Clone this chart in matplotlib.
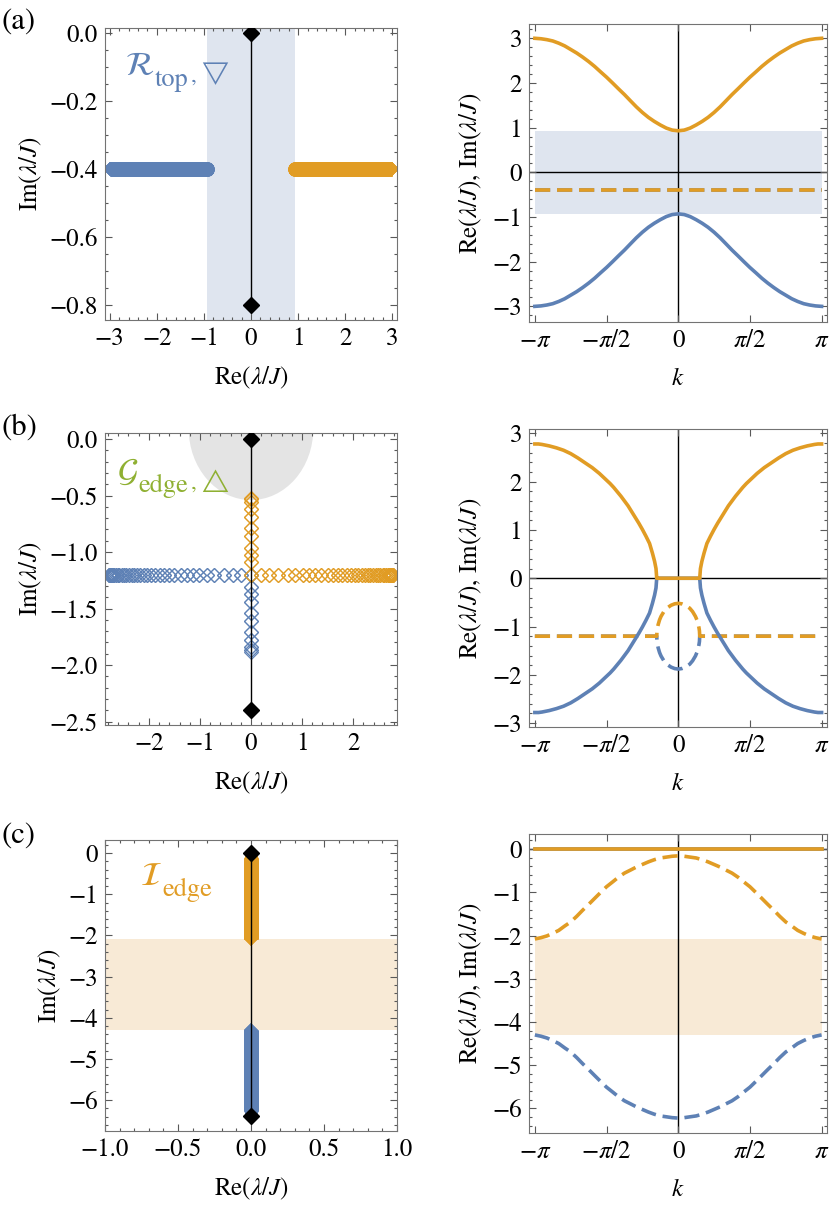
import numpy as np
import matplotlib
matplotlib.use('Agg')
import matplotlib.pyplot as plt
from matplotlib.ticker import MultipleLocator, FuncFormatter
from matplotlib.patches import Ellipse

plt.rcParams['font.family'] = 'STIXGeneral'
plt.rcParams['mathtext.fontset'] = 'stix'
plt.rcParams['font.size'] = 18

azul = '#5e81b5'
naranja = '#e19c24'
verde = '#8fb032'

# ---- datos (k en unidades de pi) ----
# paneles (a) y (c): k = -pi..pi en pasos de pi/24
k_ac = [-1.0, -0.958, -0.917, -0.875, -0.833, -0.792, -0.75, -0.708, -0.667, -0.625, -0.583, -0.542,
        -0.5, -0.458, -0.417, -0.375, -0.333, -0.292, -0.25, -0.208, -0.167, -0.125, -0.083, -0.042, 0.0,
        0.042, 0.083, 0.125, 0.167, 0.208, 0.25, 0.292, 0.333, 0.375, 0.417, 0.458, 0.5,
        0.542, 0.583, 0.625, 0.667, 0.708, 0.75, 0.792, 0.833, 0.875, 0.917, 0.958, 1.0]

re_a_sup = [3.00, 2.99, 2.97, 2.94, 2.89, 2.83, 2.75, 2.67, 2.58, 2.48, 2.37, 2.25,
            2.13, 2.00, 1.87, 1.74, 1.60, 1.465, 1.34, 1.23, 1.14, 1.06, 0.99, 0.945, 0.93,
            0.945, 0.99, 1.06, 1.14, 1.23, 1.34, 1.465, 1.60, 1.74, 1.87, 2.00, 2.13,
            2.25, 2.37, 2.48, 2.58, 2.67, 2.75, 2.83, 2.89, 2.94, 2.97, 2.99, 3.00]
re_a_inf = [-3.00, -2.99, -2.97, -2.94, -2.89, -2.83, -2.75, -2.67, -2.58, -2.48, -2.37, -2.25,
            -2.13, -2.00, -1.87, -1.74, -1.60, -1.465, -1.34, -1.23, -1.14, -1.06, -0.99, -0.945, -0.93,
            -0.945, -0.99, -1.06, -1.14, -1.23, -1.34, -1.465, -1.60, -1.74, -1.87, -2.00, -2.13,
            -2.25, -2.37, -2.48, -2.58, -2.67, -2.75, -2.83, -2.89, -2.94, -2.97, -2.99, -3.00]
im_a = [-0.40, -0.40, -0.40, -0.40, -0.40, -0.40, -0.40, -0.40, -0.40, -0.40, -0.40, -0.40,
        -0.40, -0.40, -0.40, -0.40, -0.40, -0.40, -0.40, -0.40, -0.40, -0.40, -0.40, -0.40, -0.40,
        -0.40, -0.40, -0.40, -0.40, -0.40, -0.40, -0.40, -0.40, -0.40, -0.40, -0.40, -0.40,
        -0.40, -0.40, -0.40, -0.40, -0.40, -0.40, -0.40, -0.40, -0.40, -0.40, -0.40, -0.40]
gap_a = [-0.93, 0.93]
polos_a = [0.0, -0.80]

re_c = [0.0, 0.0, 0.0, 0.0, 0.0, 0.0, 0.0, 0.0, 0.0, 0.0, 0.0, 0.0,
        0.0, 0.0, 0.0, 0.0, 0.0, 0.0, 0.0, 0.0, 0.0, 0.0, 0.0, 0.0, 0.0,
        0.0, 0.0, 0.0, 0.0, 0.0, 0.0, 0.0, 0.0, 0.0, 0.0, 0.0, 0.0,
        0.0, 0.0, 0.0, 0.0, 0.0, 0.0, 0.0, 0.0, 0.0, 0.0, 0.0, 0.0]
im_c_sup = [-2.08, -2.05, -2.01, -1.95, -1.88, -1.78, -1.685, -1.555, -1.415, -1.28, -1.14, -1.005,
            -0.87, -0.76, -0.65, -0.555, -0.485, -0.415, -0.355, -0.295, -0.245, -0.205, -0.185, -0.165, -0.155,
            -0.165, -0.185, -0.205, -0.245, -0.295, -0.355, -0.415, -0.485, -0.555, -0.65, -0.76, -0.87,
            -1.005, -1.14, -1.28, -1.415, -1.555, -1.685, -1.78, -1.88, -1.95, -2.01, -2.05, -2.08]
im_c_inf = [-4.30, -4.33, -4.37, -4.43, -4.50, -4.60, -4.695, -4.825, -4.965, -5.10, -5.24, -5.375,
            -5.51, -5.62, -5.73, -5.825, -5.895, -5.965, -6.025, -6.085, -6.135, -6.175, -6.195, -6.215, -6.225,
            -6.215, -6.195, -6.175, -6.135, -6.085, -6.025, -5.965, -5.895, -5.825, -5.73, -5.62, -5.51,
            -5.375, -5.24, -5.10, -4.965, -4.825, -4.695, -4.60, -4.50, -4.43, -4.37, -4.33, -4.30]
gap_c = [-4.30, -2.08]
polos_c = [0.0, -6.38]

# panel (b): tramos izquierdo, central (entre los puntos excepcionales) y derecho
k_b_izq = [-1.0, -0.975, -0.95, -0.925, -0.9, -0.875, -0.85, -0.825, -0.8, -0.775, -0.75, -0.725,
           -0.7, -0.675, -0.65, -0.625, -0.6, -0.575, -0.55, -0.525, -0.5, -0.475, -0.45, -0.425,
           -0.4, -0.375, -0.35, -0.325, -0.3, -0.275, -0.25, -0.225, -0.2, -0.18, -0.165, -0.155, -0.15]
k_b_cen = [-0.148, -0.145, -0.14, -0.13, -0.12, -0.1, -0.08, -0.05, -0.025, 0.0,
           0.025, 0.05, 0.08, 0.1, 0.12, 0.13, 0.14, 0.145, 0.148]
k_b_der = [0.15, 0.155, 0.165, 0.18, 0.2, 0.225, 0.25, 0.275, 0.3, 0.325, 0.35, 0.375,
           0.4, 0.425, 0.45, 0.475, 0.5, 0.525, 0.55, 0.575, 0.6, 0.625, 0.65, 0.675,
           0.7, 0.725, 0.75, 0.775, 0.8, 0.825, 0.85, 0.875, 0.9, 0.925, 0.95, 0.975, 1.0]

re_b_izq = [2.78, 2.78, 2.77, 2.755, 2.74, 2.72, 2.70, 2.675, 2.65, 2.615, 2.58, 2.535,
            2.49, 2.44, 2.39, 2.34, 2.29, 2.23, 2.17, 2.10, 2.03, 1.96, 1.88, 1.79,
            1.70, 1.60, 1.50, 1.38, 1.26, 1.14, 1.01, 0.87, 0.72, 0.52, 0.35, 0.20, 0.0]
re_b_der = [0.0, 0.20, 0.35, 0.52, 0.72, 0.87, 1.01, 1.14, 1.26, 1.38, 1.50, 1.60,
            1.70, 1.79, 1.88, 1.96, 2.03, 2.10, 2.17, 2.23, 2.29, 2.34, 2.39, 2.44,
            2.49, 2.535, 2.58, 2.615, 2.65, 2.675, 2.70, 2.72, 2.74, 2.755, 2.77, 2.78, 2.78]
re_b_cen = [0.0, 0.0, 0.0, 0.0, 0.0, 0.0, 0.0, 0.0, 0.0, 0.0,
            0.0, 0.0, 0.0, 0.0, 0.0, 0.0, 0.0, 0.0, 0.0]
im_b_fuera = [-1.2, -1.2, -1.2, -1.2, -1.2, -1.2, -1.2, -1.2, -1.2, -1.2, -1.2, -1.2,
              -1.2, -1.2, -1.2, -1.2, -1.2, -1.2, -1.2, -1.2, -1.2, -1.2, -1.2, -1.2,
              -1.2, -1.2, -1.2, -1.2, -1.2, -1.2, -1.2, -1.2, -1.2, -1.2, -1.2, -1.2, -1.2]
im_b_cen_sup = [-1.09, -1.03, -0.96, -0.86, -0.79, -0.69, -0.62, -0.56, -0.53, -0.52,
                -0.53, -0.56, -0.62, -0.69, -0.79, -0.86, -0.96, -1.03, -1.09]
im_b_cen_inf = [-1.31, -1.37, -1.44, -1.54, -1.61, -1.71, -1.78, -1.84, -1.87, -1.88,
                -1.87, -1.84, -1.78, -1.71, -1.61, -1.54, -1.44, -1.37, -1.31]
polos_b = [0.0, -2.4]
disco_b = [1.22, 0.63]  # semiejes de la region gris

k_b = np.concatenate([k_b_izq, k_b_cen, k_b_der])
re_b_sup = np.concatenate([re_b_izq, re_b_cen, re_b_der])
re_b_inf = -re_b_sup
im_b_sup = np.concatenate([im_b_fuera, im_b_cen_sup, im_b_fuera])
im_b_inf = np.concatenate([im_b_fuera, im_b_cen_inf, im_b_fuera])

W, H = 830, 1211


def caja(l, t, r, b):
    return [l / W, 1 - b / H, (r - l) / W, (b - t) / H]


def un_decimal(v, p):
    s = f'{v:.1f}'
    if s == '-0.0':
        s = '0.0'
    return s.replace('-', '\u2212')


def estilo(ax, xmaj=None, xmin=None, ymaj=1, ymin=0.2):
    for s in ax.spines.values():
        s.set_color('0.45')
        s.set_linewidth(0.8)
    if xmaj is not None:
        ax.xaxis.set_major_locator(MultipleLocator(xmaj))
    if xmin is not None:
        ax.xaxis.set_minor_locator(MultipleLocator(xmin))
    ax.yaxis.set_major_locator(MultipleLocator(ymaj))
    ax.yaxis.set_minor_locator(MultipleLocator(ymin))
    ax.tick_params(which='both', direction='in', top=True, right=True, color='0.35', width=0.8)
    ax.tick_params(which='major', length=5, pad=5)
    ax.tick_params(which='minor', length=2.5)


def etiqueta(ax, x, y, letra, sub, resto, color):
    # letra caligrafica + subindice grande + simbolo, encadenados
    t1 = ax.text(x, y, r'$\mathcal{' + letra + '}$', fontsize=24, color=color,
                 transform=ax.transAxes, va='baseline')
    t2 = ax.annotate(sub, xy=(1, 0), xycoords=t1, xytext=(0.5, -3), textcoords='offset points',
                     fontsize=19, color=color, va='baseline')
    if resto:
        ax.annotate(resto, xy=(1, 0), xycoords=(t2, t1), xytext=(1, 0), textcoords='offset points',
                    fontsize=17, color=color, va='baseline')


def panel_complejo(ax, re_sup, im_sup, re_inf, im_inf, polos, abierto=False):
    if abierto:
        ax.plot(re_inf, im_inf, 'D', ms=6.8, mfc='none', mec=azul, mew=0.8, ls='none')
        ax.plot(re_sup, im_sup, 'D', ms=6.8, mfc='none', mec=naranja, mew=0.8, ls='none')
    else:
        ax.plot(re_inf, im_inf, '-D', ms=7.6, mew=0, color=azul, lw=10.5, solid_capstyle='butt')
        ax.plot(re_sup, im_sup, '-D', ms=7.6, mew=0, color=naranja, lw=10.5, solid_capstyle='butt')
    ax.plot([0, 0], polos, color='black', lw=1.0, zorder=4)
    ax.plot([0, 0], polos, 'D', color='black', ms=8, zorder=5)
    ax.set_xlabel(r'Re($\lambda/J$)', labelpad=10)
    ax.set_ylabel(r'Im($\lambda/J$)', labelpad=4)


def panel_bandas(ax, k, re_sup, re_inf, im_sup, im_inf):
    kk = np.pi * np.array(k)
    ax.axvline(0, color='black', lw=1.0, zorder=1)
    ax.axhline(0, color='black', lw=1.0, zorder=1)
    ax.plot(kk, im_inf, color=azul, lw=2.6, ls=(0, (4.2, 1.9)), zorder=2)
    ax.plot(kk, im_sup, color=naranja, lw=2.6, ls=(0, (4.2, 1.9)), zorder=3)
    ax.plot(kk, re_inf, color=azul, lw=2.6, zorder=3)
    ax.plot(kk, re_sup, color=naranja, lw=2.6, zorder=4)
    ax.set_xlim(-3.27, 3.26)
    ax.set_xticks([-np.pi, -np.pi / 2, 0, np.pi / 2, np.pi])
    ax.set_xticklabels([r'$-\pi$', r'$-\pi/2$', '0', r'$\pi/2$', r'$\pi$'])
    ax.set_xlabel(r'$k$', labelpad=10)
    ax.set_ylabel(r'Re($\lambda/J$), Im($\lambda/J$)', labelpad=6)


fig = plt.figure(figsize=(W / 100, H / 100), dpi=100)

# ---- (a) ----
ax = fig.add_axes(caja(105, 28, 397, 320))
ax.axvspan(gap_a[0], gap_a[1], color='#dfe5ef', lw=0, zorder=0)
panel_complejo(ax, re_a_sup, im_a, re_a_inf, im_a, polos_a)
ax.set_xlim(-3.1, 3.1)
ax.set_ylim(-0.844, 0.015)
estilo(ax, 1, 0.2, 0.2, 0.05)
ax.yaxis.set_major_formatter(FuncFormatter(un_decimal))
etiqueta(ax, 0.068, 0.84, 'R', 'top', r', $\bigtriangledown$', azul)

ax = fig.add_axes(caja(529, 24, 827, 322))
ax.fill_between([-np.pi, np.pi], gap_a[0], gap_a[1], color='#dfe5ef', lw=0, zorder=0)
panel_bandas(ax, k_ac, re_a_sup, re_a_inf, im_a, im_a)
ax.set_ylim(-3.35, 3.32)
estilo(ax)
ax.xaxis.set_minor_locator(plt.NullLocator())

# ---- (b) ----
ax = fig.add_axes(caja(105, 433, 397, 725))
ax.add_patch(Ellipse((0, 0.09), 2 * disco_b[0], 2 * disco_b[1], color='#e4e4e4', lw=0, zorder=0))
panel_complejo(ax, re_b_sup, im_b_sup, re_b_inf, im_b_inf, polos_b, abierto=True)
ax.set_xlim(-2.86, 2.86)
ax.set_ylim(-2.53, 0.053)
estilo(ax, 1, 0.2, 0.5, 0.1)
ax.yaxis.set_major_formatter(FuncFormatter(un_decimal))
etiqueta(ax, 0.04, 0.835, 'G', 'edge', r', $\bigtriangleup$', verde)

ax = fig.add_axes(caja(529, 429, 827, 727))
panel_bandas(ax, k_b, re_b_sup, re_b_inf, im_b_sup, im_b_inf)
ax.set_ylim(-3.08, 3.09)
estilo(ax)
ax.xaxis.set_minor_locator(plt.NullLocator())

# ---- (c) ----
ax = fig.add_axes(caja(105, 840, 397, 1131))
ax.axhspan(gap_c[0], gap_c[1], color='#f8ead6', lw=0, zorder=0)
panel_complejo(ax, re_c, im_c_sup, re_c, im_c_inf, polos_c)
ax.set_xlim(-1.0, 1.0)
ax.set_ylim(-6.75, 0.32)
estilo(ax, 0.5, 0.1, 1, 0.2)
ax.xaxis.set_major_formatter(FuncFormatter(un_decimal))
etiqueta(ax, 0.12, 0.845, 'I', 'edge', '', naranja)

ax = fig.add_axes(caja(529, 834, 827, 1133))
ax.fill_between([-np.pi, np.pi], gap_c[0], gap_c[1], color='#f8ead6', lw=0, zorder=0)
panel_bandas(ax, k_ac, re_c, re_c, im_c_sup, im_c_inf)
ax.set_ylim(-6.57, 0.35)
estilo(ax)
ax.xaxis.set_minor_locator(plt.NullLocator())

fig.text(0.002, 1 - 22 / H, '(a)', fontsize=22, va='center')
fig.text(0.002, 1 - 428 / H, '(b)', fontsize=22, va='center')
fig.text(0.002, 1 - 836 / H, '(c)', fontsize=22, va='center')

fig.savefig('out.png', dpi=100)
